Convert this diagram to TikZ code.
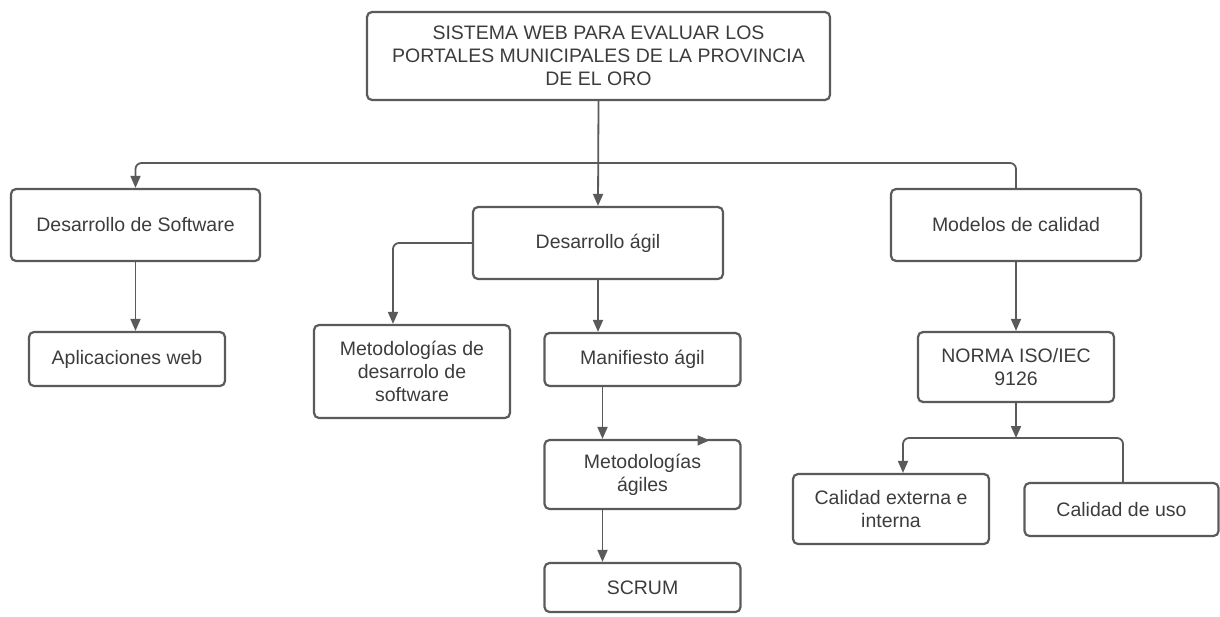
\documentclass[tikz,border=0pt]{standalone}
\usepackage{fontspec}
\setmainfont{Liberation Sans}
\usepackage{tikz}
\usetikzlibrary{arrows.meta}
\definecolor{linegray}{HTML}{5A5A5A}
\definecolor{textgray}{HTML}{3C3C3C}

\begin{document}
\begin{tikzpicture}[x=1pt, y=-1pt,
  every node/.style={font=\fontsize{19.5}{23}\selectfont, text=textgray},
  box/.style={draw=linegray, line width=2.2pt, rounded corners=5pt, inner sep=0pt, align=center},
  conn/.style={draw=linegray, line width=1.8pt, rounded corners=6pt},
  arr/.style={conn, -{Triangle[width=10pt,length=12pt]}}]

\useasboundingbox (0,0) rectangle (1220,616);

% Root
\node[box, minimum width=463pt, minimum height=88pt] (root) at (598.5,56)
  {SISTEMA WEB PARA EVALUAR LOS\\PORTALES MUNICIPALES DE LA PROVINCIA\\DE EL ORO};

% Level 1
\node[box, minimum width=249pt, minimum height=72pt] (dsw) at (135.5,225) {Desarrollo de Software};
\node[box, minimum width=250pt, minimum height=72pt] (dagil) at (598,243) {Desarrollo ágil};
\node[box, minimum width=250pt, minimum height=72pt] (modelos) at (1016,225) {Modelos de calidad};

% Level 2
\node[box, minimum width=196pt, minimum height=54pt] (apweb) at (127,359) {Aplicaciones web};
\node[box, minimum width=196pt, minimum height=93pt] (metdes) at (412,371.5)
  {Metodologías de\\desarrolo de\\software};
\node[box, minimum width=196pt, minimum height=53pt] (manif) at (642.5,359.5) {Manifiesto ágil};
\node[box, minimum width=196pt, minimum height=70pt] (norma) at (1016,367) {NORMA ISO/IEC\\9126};

% Level 3
\node[box, minimum width=196pt, minimum height=69pt] (metagil) at (642.5,474.5) {Metodologías\\ágiles};
\node[box, minimum width=196pt, minimum height=49pt] (scrum) at (642.5,587.5) {SCRUM};
\node[box, minimum width=196pt, minimum height=70pt] (calext) at (891,509) {Calidad externa e\\interna};
\node[box, minimum width=194pt, minimum height=53pt] (caluso) at (1121.5,509.5) {Calidad de uso};

% Root branches
\coordinate (rbar) at (598,163);
\draw[arr] (root.south) -- (dagil.north);
\draw[arr] (rbar) -| (dsw.north);
\draw[conn] (rbar) -| (modelos.north);

% Left column
\draw[arr] (dsw.south) -- (dsw.south |- apweb.north);

% Middle column
\draw[arr] (dagil.west) -| ([xshift=-19pt]metdes.north);
\draw[arr] (dagil.south) -- (dagil.south |- manif.north);
\draw[arr] ([xshift=-40pt]manif.south) -- ([xshift=-40pt]metagil.north);
\draw[arr] ([xshift=-40pt]metagil.south) -- ([xshift=-40pt]scrum.north);
\draw[arr] ([xshift=50pt,yshift=-1.5pt]metagil.north) -- ([xshift=67pt,yshift=-1.5pt]metagil.north);

% Right column
\draw[arr] (modelos.south) -- (norma.north);
\coordinate (nbar) at (1016,438);
\draw[arr] (norma.south) -- (nbar);
\draw[arr] (nbar) -| ([xshift=12pt]calext.north);
\draw[conn] (nbar) -| ([xshift=1.5pt]caluso.north);

\end{tikzpicture}
\end{document}
